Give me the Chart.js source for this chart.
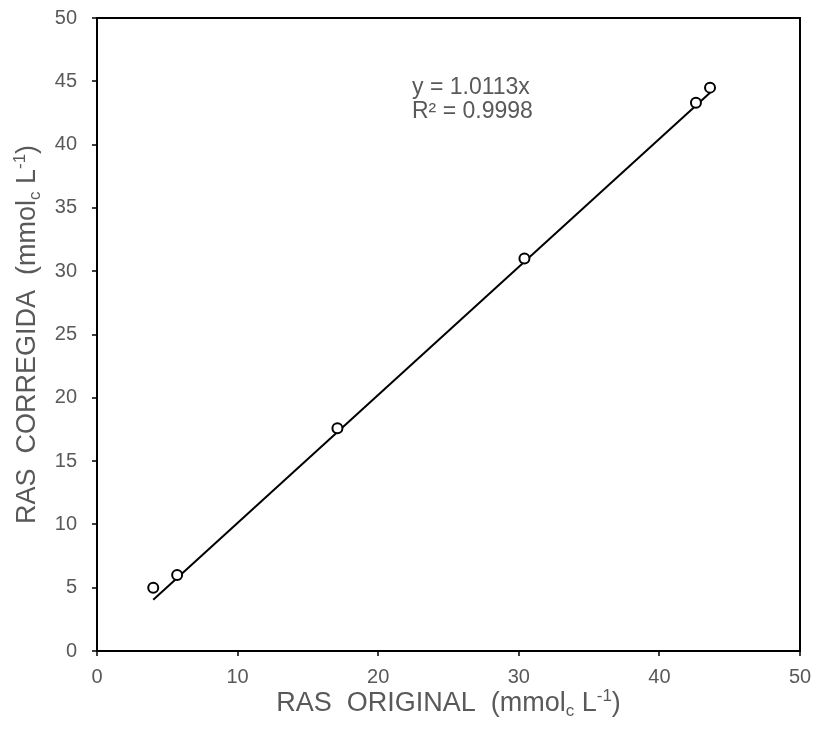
<!DOCTYPE html>
<html>
<head>
<meta charset="utf-8">
<script src="https://cdn.jsdelivr.net/npm/chart.js@4.4.1/dist/chart.umd.min.js"></script>
<style>
html,body{margin:0;padding:0;background:#fff;}
#wrap{width:817px;height:734px;position:relative;}
</style>
</head>
<body>
<div id="wrap"><canvas id="c" width="817" height="734"></canvas></div>
<script>
// Data
const rasOriginal = [4.0, 5.7, 17.1, 30.4, 42.6, 43.6];
const rasCorregida = [5.0, 6.0, 17.6, 31.0, 43.3, 44.5];
const trendSlope = 1.0113;
const rSquared = 0.9998;
const xTicks = [0, 10, 20, 30, 40, 50];
const yTicks = [0, 5, 10, 15, 20, 25, 30, 35, 40, 45, 50];

const pts = rasOriginal.map((x, i) => ({x: x, y: rasCorregida[i]}));
const xMin = Math.min(...rasOriginal), xMax = Math.max(...rasOriginal);
const trend = [{x: xMin, y: trendSlope * xMin}, {x: xMax, y: trendSlope * xMax}];

const FONT = '"Liberation Sans", Arial, sans-serif';
const GRAY = '#595959';

function measureRich(ctx, parts, size) {
  let w = 0;
  parts.forEach(([t, m]) => {
    ctx.font = (m === 'n' ? size : Math.round(size * 0.62)) + 'px ' + FONT;
    w += ctx.measureText(t).width;
  });
  return w;
}
function renderRich(ctx, parts, size, x, y) {
  let cx = x;
  parts.forEach(([t, m]) => {
    const s = m === 'n' ? size : Math.round(size * 0.62);
    ctx.font = s + 'px ' + FONT;
    let dy = 0;
    if (m === 'sub') dy = size * 0.2;
    if (m === 'sup') dy = -size * 0.38;
    ctx.fillText(t, cx, y + dy);
    cx += ctx.measureText(t).width;
  });
}

const framePlugin = {
  id: 'frame',
  afterDraw(chart) {
    const {ctx, chartArea: a} = chart;
    const xs = chart.scales.x, ys = chart.scales.y;
    ctx.save();
    ctx.strokeStyle = '#000';
    ctx.lineWidth = 2;
    ctx.strokeRect(a.left, a.top, a.right - a.left, a.bottom - a.top);
    // outward tick marks
    ctx.lineWidth = 1.5;
    ctx.beginPath();
    yTicks.forEach(v => {
      const p = Math.round(ys.getPixelForValue(v));
      ctx.moveTo(a.left - 5, p); ctx.lineTo(a.left, p);
    });
    xTicks.forEach(v => {
      const p = Math.round(xs.getPixelForValue(v));
      ctx.moveTo(p, a.bottom); ctx.lineTo(p, a.bottom + 5);
    });
    ctx.stroke();

    ctx.fillStyle = GRAY;
    ctx.textBaseline = 'alphabetic';
    ctx.textAlign = 'left';
    const size = 27;
    // X title
    const xParts = [['RAS  ORIGINAL  (mmol', 'n'], ['c', 'sub'], [' L', 'n'], ['-1', 'sup'], [')', 'n']];
    const wx = measureRich(ctx, xParts, size);
    renderRich(ctx, xParts, size, (a.left + a.right) / 2 - wx / 2, 711);
    // Y title
    const yParts = [['RAS  CORREGIDA  (mmol', 'n'], ['c', 'sub'], [' L', 'n'], ['-1', 'sup'], [')', 'n']];
    const wy = measureRich(ctx, yParts, size);
    ctx.save();
    ctx.translate(35, (a.top + a.bottom) / 2);
    ctx.rotate(-Math.PI / 2);
    renderRich(ctx, yParts, size, -wy / 2, 0);
    ctx.restore();
    // Equation
    ctx.font = '23px ' + FONT;
    ctx.fillText('y = ' + trendSlope.toFixed(4) + 'x', 412, 94);
    ctx.fillText('R² = ' + rSquared.toFixed(4), 412, 118);
    ctx.restore();
  }
};

new Chart(document.getElementById('c'), {
  type: 'scatter',
  data: {
    datasets: [
      {
        label: 'Tendencia',
        data: trend,
        showLine: true,
        borderColor: '#000',
        borderWidth: 2,
        pointRadius: 0,
        fill: false,
        order: 2
      },
      {
        label: 'RAS',
        data: pts,
        pointStyle: 'circle',
        pointRadius: 5,
        pointBorderWidth: 2,
        pointBorderColor: '#000',
        pointBackgroundColor: '#fff',
        showLine: false,
        order: 1
      }
    ]
  },
  options: {
    responsive: false,
    animation: false,
    devicePixelRatio: 1,
    layout: {padding: {top: 18, right: 17, left: 0, bottom: 0}},
    plugins: {legend: {display: false}, tooltip: {enabled: false}},
    scales: {
      x: {
        type: 'linear', min: 0, max: 50,
        grid: {display: false, drawTicks: false},
        border: {display: false},
        afterBuildTicks(s) { s.ticks = xTicks.map(v => ({value: v})); },
        afterFit(s) { s.height = 83; s.paddingLeft = 0; s.paddingRight = 0; },
        ticks: {color: GRAY, font: {family: FONT, size: 20}, padding: 14, maxRotation: 0}
      },
      y: {
        type: 'linear', min: 0, max: 50,
        grid: {display: false, drawTicks: false},
        border: {display: false},
        afterBuildTicks(s) { s.ticks = yTicks.map(v => ({value: v})); },
        afterFit(s) { s.width = 97; s.paddingTop = 0; s.paddingBottom = 0; },
        ticks: {color: GRAY, font: {family: FONT, size: 20}, padding: 20}
      }
    }
  },
  plugins: [framePlugin]
});
</script>
</body>
</html>
